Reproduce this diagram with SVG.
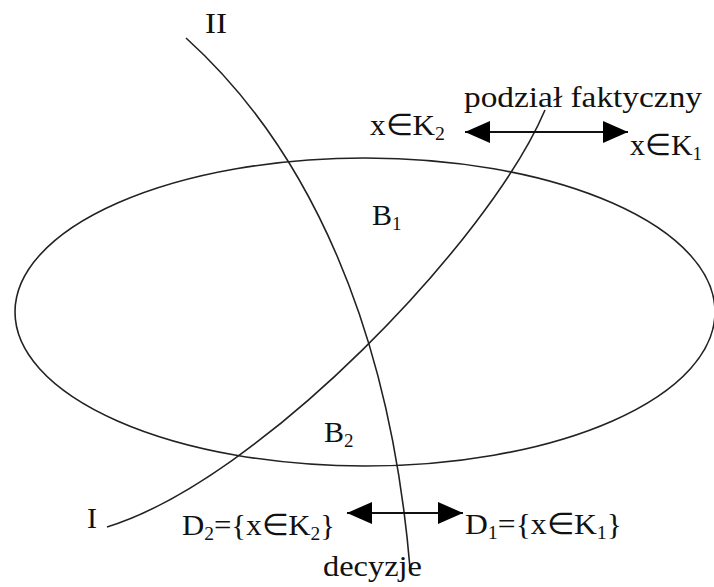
<svg xmlns="http://www.w3.org/2000/svg" width="714" height="587" viewBox="0 0 714 587">
<style>
.ln{fill:none;stroke:#222;stroke-width:1.6}
.ar{fill:none;stroke:#111;stroke-width:2.2}
.t{font-family:"Times New Roman","Liberation Serif",Tinos,serif;font-size:30px;fill:#111}
.s{font-size:19px}
</style>
<defs>
<marker id="ah" viewBox="0 0 25 22" refX="25" refY="11" markerWidth="25" markerHeight="22" markerUnits="userSpaceOnUse" orient="auto-start-reverse">
<path d="M0,0 L25,11 L0,22 Z" fill="#000"/>
</marker>
</defs>
<rect width="714" height="587" fill="#fff"/>
<g id="set">
<ellipse class="ln" cx="365" cy="312" rx="350" ry="154"/>
</g>
<g id="curves">
<path id="curveII" class="ln" d="M186,38 C310,150 390,330 410,568"/>
<path id="curveI" class="ln" d="M107,527 C260,480 490,240 545,110"/>
</g>
<g id="connectors">
<line class="ar" x1="465" y1="132" x2="628" y2="132" marker-start="url(#ah)" marker-end="url(#ah)"/>
<line class="ar" x1="347" y1="513" x2="463" y2="513" marker-start="url(#ah)" marker-end="url(#ah)"/>
</g>
<g id="labels">
<text class="t" x="205" y="33" textLength="22" lengthAdjust="spacingAndGlyphs">II</text>
<text class="t" x="87" y="528">I</text>
<text class="t" x="464" y="107" textLength="238" lengthAdjust="spacingAndGlyphs">podział faktyczny</text>
<text class="t" x="370" y="135" textLength="75" lengthAdjust="spacingAndGlyphs">x∈K<tspan class="s" dy="5">2</tspan></text>
<text class="t" x="630" y="155" textLength="72" lengthAdjust="spacingAndGlyphs">x∈K<tspan class="s" dy="5">1</tspan></text>
<text class="t" x="372" y="225">B<tspan class="s" dy="5">1</tspan></text>
<text class="t" x="324" y="442">B<tspan class="s" dy="5">2</tspan></text>
<text class="t" x="182" y="535" textLength="153" lengthAdjust="spacingAndGlyphs">D<tspan class="s" dy="5">2</tspan><tspan dy="-5">={x∈K</tspan><tspan class="s" dy="5">2</tspan><tspan dy="-5">}</tspan></text>
<text class="t" x="465" y="534" textLength="157" lengthAdjust="spacingAndGlyphs">D<tspan class="s" dy="5">1</tspan><tspan dy="-5">={x∈K</tspan><tspan class="s" dy="5">1</tspan><tspan dy="-5">}</tspan></text>
<text class="t" x="323" y="576" textLength="99" lengthAdjust="spacingAndGlyphs">decyzje</text>
</g>
</svg>
